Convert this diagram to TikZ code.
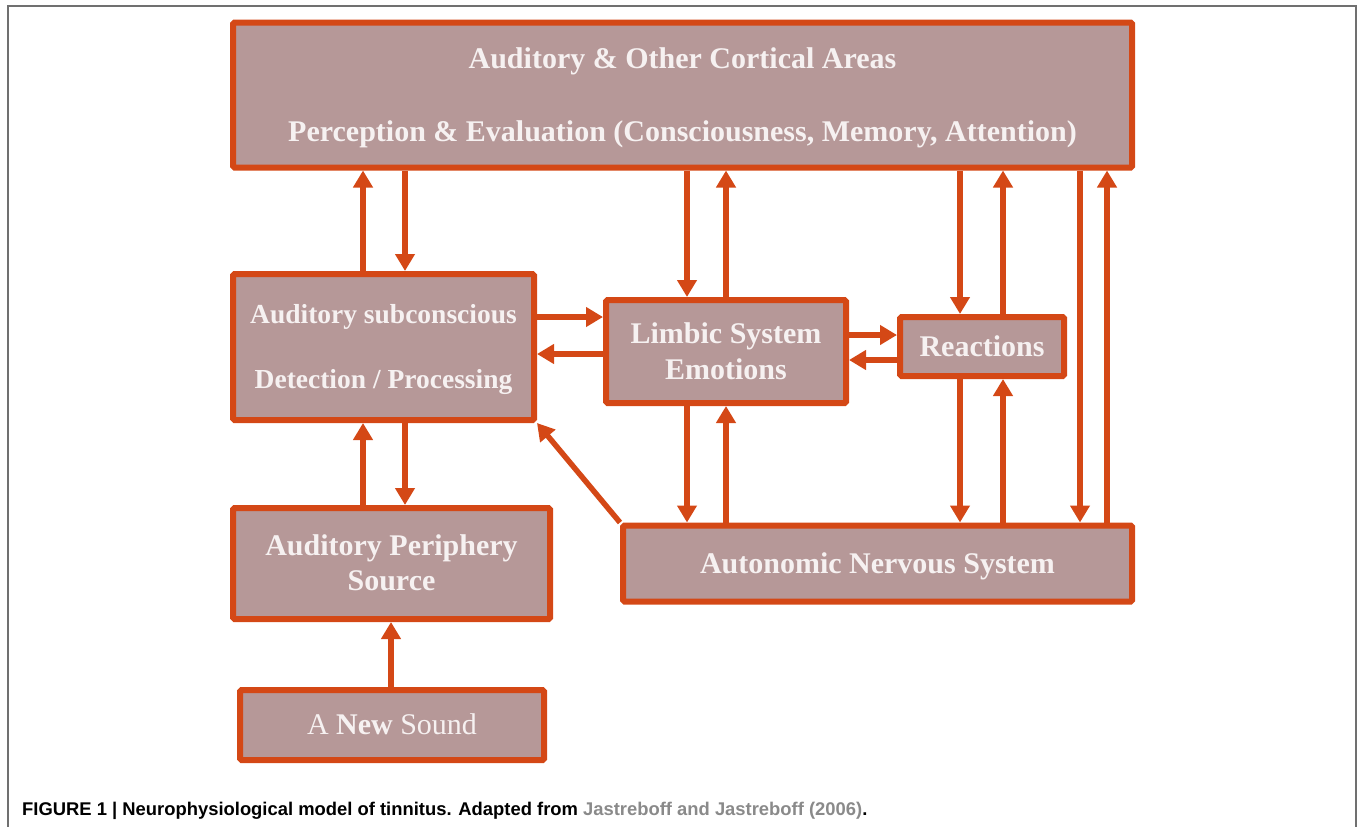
\documentclass[tikz,border=0pt]{standalone}
\usepackage{fontspec}
\setmainfont{Liberation Serif}
\setsansfont{Liberation Sans}
\usetikzlibrary{arrows.meta}
\definecolor{boxfill}{HTML}{B69898}
\definecolor{boxline}{HTML}{D44816}
\definecolor{txt}{HTML}{F6F1F1}
\definecolor{linkgray}{HTML}{8A8A8A}
\definecolor{framegray}{HTML}{707070}
\begin{document}
\begin{tikzpicture}[x=1pt,y=-1pt,
  box/.style={draw=boxline, fill=boxfill, line width=6pt, inner sep=0pt,
    text=txt, align=center, rounded corners=1.5pt,
    text height=19.9pt, text depth=0pt,
    font=\fontsize{30}{36}\selectfont\bfseries},
  arr/.style={draw=boxline, line width=5.5pt, -{Triangle[length=17pt,width=19pt]}},
  framestyle/.style={draw=framegray, line width=1.4pt},
]
\useasboundingbox (0,0) rectangle (1360,827);
\draw[framestyle] (8,827) -- (8,6) -- (1356,6) -- (1356,827);

\node[box, minimum width=899pt, minimum height=145pt, text height=92.9pt] (top) at (682.5,95)
  {Auditory \& Other Cortical Areas\\[37pt]Perception \& Evaluation (Consciousness, Memory, Attention)};
\node[box, minimum width=301pt, minimum height=146pt, text height=83.2pt,
  font=\fontsize{27.5}{33}\selectfont\bfseries] (sub) at (383.5,347)
  {Auditory subconscious\\[32pt]Detection / Processing};
\node[box, minimum width=240pt, minimum height=103pt, text height=55.9pt] (limbic) at (726,351.5)
  {Limbic System\\Emotions};
\node[box, minimum width=164pt, minimum height=59pt] (react) at (982,346.5)
  {Reactions};
\node[box, minimum width=509pt, minimum height=76pt] (ans) at (877.5,563.5)
  {Autonomic Nervous System};
\node[box, minimum width=317pt, minimum height=111pt, text height=54.9pt] (peri) at (391.5,563.5)
  {Auditory Periphery\\[-1pt]Source};
\node[box, minimum width=304pt, minimum height=70pt,
  font=\fontsize{30}{36}\selectfont\mdseries] (sound) at (392,725)
  {A \textbf{New} Sound};

\coordinate (xa) at (363,0);
\coordinate (xb) at (405,0);
\coordinate (xc) at (687,0);
\coordinate (xd) at (726,0);
\coordinate (xe) at (960,0);
\coordinate (xf) at (1003,0);
\coordinate (xg) at (1080,0);
\coordinate (xh) at (1107,0);
\coordinate (xi) at (391,0);
\coordinate (ya) at (0,317);
\coordinate (yb) at (0,354);
\coordinate (yc) at (0,335);
\coordinate (yd) at (0,360);

% top <-> subconscious
\draw[arr] (sub.north -| xa) -- (top.south -| xa);
\draw[arr] (top.south -| xb) -- (sub.north -| xb);
% top <-> limbic
\draw[arr] (top.south -| xc) -- (limbic.north -| xc);
\draw[arr] (limbic.north -| xd) -- (top.south -| xd);
% top <-> reactions
\draw[arr] (top.south -| xe) -- (react.north -| xe);
\draw[arr] (react.north -| xf) -- (top.south -| xf);
% top <-> autonomic
\draw[arr] (top.south -| xg) -- (ans.north -| xg);
\draw[arr] (ans.north -| xh) -- (top.south -| xh);
% subconscious <-> limbic
\draw[arr] (sub.east |- ya) -- (limbic.west |- ya);
\draw[arr] (limbic.west |- yb) -- (sub.east |- yb);
% limbic <-> reactions
\draw[arr] (limbic.east |- yc) -- (react.west |- yc);
\draw[arr] (react.west |- yd) -- (limbic.east |- yd);
% limbic <-> autonomic
\draw[arr] (limbic.south -| xc) -- (ans.north -| xc);
\draw[arr] (ans.north -| xd) -- (limbic.south -| xd);
% reactions <-> autonomic
\draw[arr] (react.south -| xe) -- (ans.north -| xe);
\draw[arr] (ans.north -| xf) -- (react.south -| xf);
% subconscious <-> periphery
\draw[arr] (peri.north -| xa) -- (sub.south -| xa);
\draw[arr] (sub.south -| xb) -- (peri.north -| xb);
% autonomic -> subconscious
\draw[arr] (ans.north west) -- (sub.south east);
% sound -> periphery
\draw[arr] (sound.north -| xi) -- (peri.south -| xi);

\node[anchor=base west, inner sep=0pt,
  font=\sffamily\bfseries\fontsize{18.4}{22}\selectfont] (cap) at (22,815)
  {FIGURE 1 | Neurophysiological model of tinnitus. Adapted from \textcolor{linkgray}{Jastreboff and Jastreboff (2006)}.};
\end{tikzpicture}
\end{document}
